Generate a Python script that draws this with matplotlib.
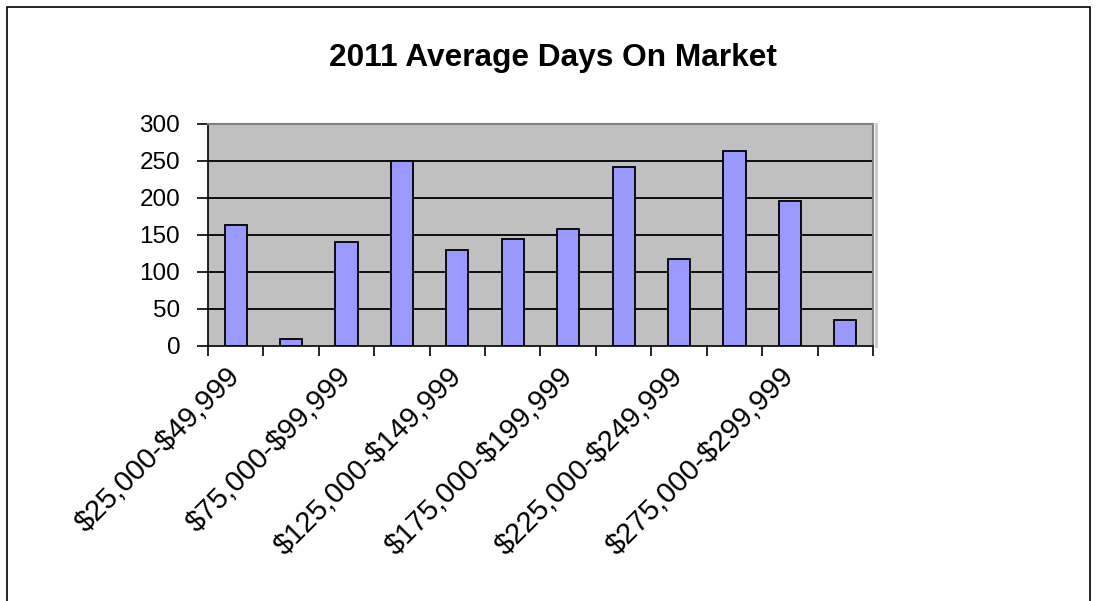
import matplotlib.pyplot as plt
from matplotlib.patches import Rectangle

# categorie di prezzo e giorni medi sul mercato
categories = ["$25,000-$49,999", "$50,000-$74,999", "$75,000-$99,999",
              "$100,000-$124,999", "$125,000-$149,999", "$150,000-$174,999",
              "$175,000-$199,999", "$200,000-$224,999", "$225,000-$249,999",
              "$250,000-$274,999", "$275,000-$299,999", "$300,000+"]
days = [163, 10, 141, 250, 130, 144, 158, 242, 117, 264, 196, 35]
y_ticks = [0, 50, 100, 150, 200, 250, 300]

plt.rcParams['font.family'] = ['Liberation Sans', 'DejaVu Sans']

fig = plt.figure(figsize=(10.97, 6.01), dpi=100)
ax = fig.add_axes([0.1896, 0.4243, 0.6062, 0.3694])

# cornice esterna del grafico
fig.patches.append(Rectangle((7 / 1097, -0.1), 1083 / 1097, 1.1 - 7 / 601,
                             transform=fig.transFigure, fill=False,
                             edgecolor='black', linewidth=1.2))

ax.set_facecolor('#C0C0C0')
x = list(range(len(categories)))
ax.bar(x, days, width=0.4, color='#9999FF', edgecolor='black', linewidth=1.3, zorder=3)

ax.set_xlim(-0.5, len(categories) - 0.5)
ax.set_ylim(0, 300)
ax.set_yticks(y_ticks)
for v in y_ticks[1:-1]:
    ax.axhline(v, color='black', linewidth=1.3, zorder=1)

# tick sui confini delle categorie, etichette alternate al centro
ax.set_xticks([i - 0.5 for i in range(len(categories) + 1)])
ax.set_xticklabels([])
ax.set_xticks(x, minor=True)
labels = [c.replace('$', r'\$') if i % 2 == 0 else "" for i, c in enumerate(categories)]
ax.set_xticklabels(labels, minor=True, rotation=45, ha='right', va='center',
                   rotation_mode='anchor', fontsize=21)
ax.tick_params(axis='x', which='minor', length=0, pad=19)
ax.tick_params(axis='x', which='major', length=7, width=1.2, direction='out')
ax.tick_params(axis='y', length=8, width=1.2, direction='out', labelsize=17.5, pad=12)

for s in ['left', 'bottom']:
    ax.spines[s].set_color('black')
    ax.spines[s].set_linewidth(1.2)
for s in ['top', 'right']:
    ax.spines[s].set_color('#808080')
    ax.spines[s].set_linewidth(1.5)

# ombra chiara a destra dell'area del grafico
ax.plot([1.004, 1.004], [0, 1], transform=ax.transAxes, color='#C8C8C8',
        linewidth=2, clip_on=False)

fig.text(553 / 1097, 1 - 58 / 601, "2011 Average Days On Market",
         ha='center', va='center', fontsize=22.8, fontweight='bold')

fig.savefig("out.png", dpi=100)
